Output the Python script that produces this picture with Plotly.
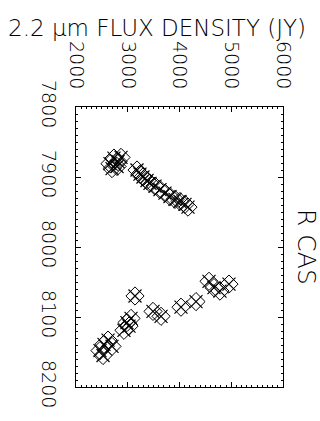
import plotly.graph_objects as go

# 2.2 micron flux densities (Jy) against Julian date offset for R Cas
flux_upper = [2657, 2734, 2812, 2696, 2793, 2870,
              3179, 3236, 3294, 3372, 3430, 3526, 3623, 3719, 3816, 3913, 4009, 4106, 4164]
jd_upper = [7881, 7873, 7878, 7888, 7885, 7872,
            7890, 7896, 7900, 7905, 7909, 7913, 7918, 7923, 7928, 7932, 7935, 7939, 7943]
flux_lower = [2464, 2541, 2619, 2696, 2522, 2927, 2985, 3063, 3024, 3140,
              3488, 3643, 4029, 4319, 4570, 4666, 4782, 4956]
jd_lower = [8148, 8139, 8133, 8142, 8155, 8119, 8108, 8102, 8113, 8070,
            8092, 8099, 8086, 8078, 8049, 8058, 8063, 8053]

flux = flux_upper + flux_lower
jd = jd_upper + jd_lower

x_ticks = [2000, 3000, 4000, 5000, 6000]
y_ticks = [7800, 7900, 8000, 8100, 8200]

FONT = "DejaVu Sans"
WEIGHT = 200

fig = go.Figure()
fig.add_trace(go.Scatter(
    x=flux, y=jd, mode="markers",
    marker=dict(symbol="diamond-open", size=14, color="black", line=dict(width=1, color="black")),
    showlegend=False, hoverinfo="skip"))
fig.add_trace(go.Scatter(
    x=flux, y=jd, mode="markers",
    marker=dict(symbol="x-thin-open", size=13, color="black", line=dict(width=1.2, color="black")),
    showlegend=False, hoverinfo="skip"))

axis_common = dict(
    showgrid=False, zeroline=False, showline=True, linecolor="black", linewidth=1,
    mirror="allticks", ticks="inside", tickcolor="black", tickwidth=1, ticklen=5,
    tickfont=dict(family=FONT, size=19, weight=WEIGHT, color="black"), tickangle=90,
    minor=dict(ticks="inside", ticklen=2, tickcolor="black", tickwidth=1),
)

fig.update_xaxes(range=[2000, 6000], side="top", tickvals=x_ticks,
                 ticktext=[str(v) for v in x_ticks], ticklabelstandoff=10,
                 minor_dtick=100, **axis_common)
fig.update_yaxes(range=[8200, 7800], tickvals=y_ticks,
                 ticktext=[str(v) for v in y_ticks], ticklabelstandoff=10,
                 minor_dtick=10, **axis_common)

fig.add_annotation(text="2.2 μm FLUX DENSITY (JY)", xref="paper", yref="paper",
                   x=0.5, y=1.0, yanchor="bottom", yshift=64, xshift=-23,
                   showarrow=False, font=dict(family=FONT, size=23, weight=WEIGHT, color="black"))
fig.add_annotation(text="R CAS", textangle=90, xref="paper", yref="paper",
                   x=1.0, y=0.5, xanchor="center", yanchor="middle", xshift=24,
                   showarrow=False, font=dict(family=FONT, size=25, weight=WEIGHT, color="black"))

fig.update_layout(
    width=320, height=421, paper_bgcolor="white", plot_bgcolor="white",
    margin=dict(l=76, r=37, t=107, b=34),
)

fig.write_html("out.html")
